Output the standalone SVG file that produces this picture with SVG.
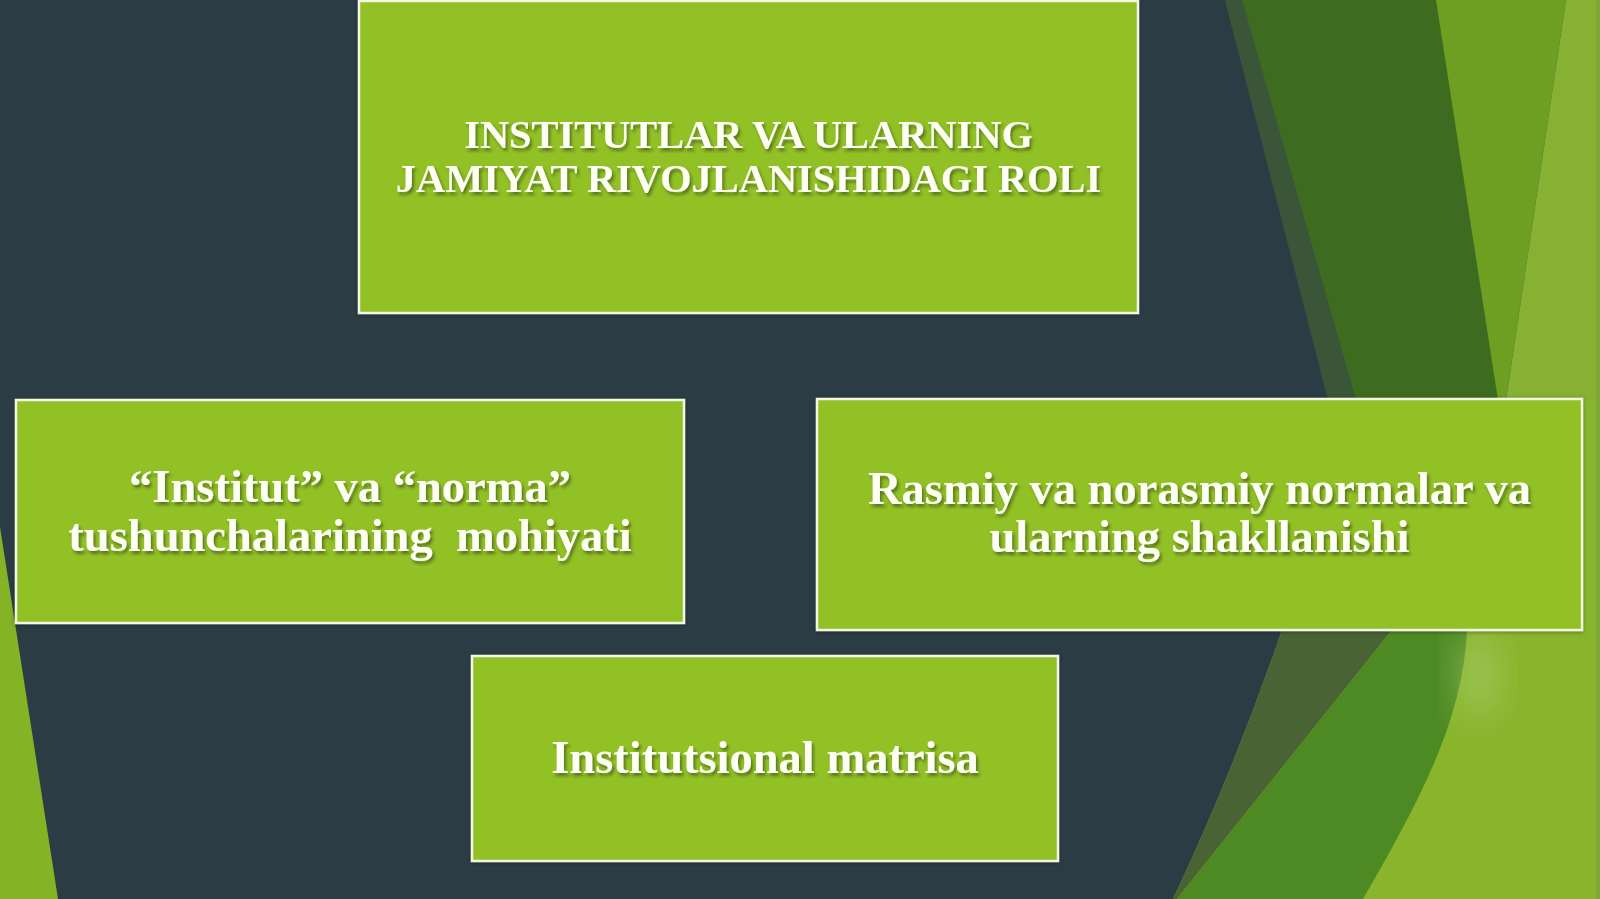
<svg xmlns="http://www.w3.org/2000/svg" width="1600" height="899" viewBox="0 0 1600 899">
  <defs>
    <filter id="tshadow" x="-10%" y="-30%" width="120%" height="160%">
      <feDropShadow dx="2" dy="3" stdDeviation="1.8" flood-color="#1a2a10" flood-opacity="0.5"/>
    </filter>
    <filter id="bshadow" x="-5%" y="-5%" width="110%" height="110%">
      <feDropShadow dx="0" dy="1" stdDeviation="2" flood-color="#000" flood-opacity="0.35"/>
    </filter>
    <filter id="blur" x="-50%" y="-50%" width="200%" height="200%">
      <feGaussianBlur stdDeviation="18"/>
    </filter>
  </defs>
  <style>
    .box { fill: #92c125; stroke: #f1f7e4; stroke-width: 2.5; filter: url(#bshadow); }
    .lbl { font-family: "Liberation Serif", "Times New Roman", serif; font-weight: bold; fill: #fdfff4; text-anchor: middle; filter: url(#tshadow); }
  </style>

  <!-- background -->
  <rect x="0" y="0" width="1600" height="899" fill="#2c3c45"/>
  <g id="background-shapes">
    <!-- left wedge -->
    <polygon points="0,527 58,899 0,899" fill="#85b326"/>
    <!-- top right facets -->
    <polygon points="1225,0 1440,0 1500,400 1330,400" fill="#3d6b1f"/>
    <polygon points="1225,0 1242,0 1356,400 1328,400" fill="#3a5538"/>
    <polygon points="1436,0 1566,0 1506,400 1498,400" fill="#6e9f22"/>
    <polygon points="1566,0 1600,0 1600,400 1506,400" fill="#86b132"/>
    <rect x="1500" y="400" width="100" height="240" fill="#88b52f"/>
    <!-- bottom right facets -->
    <path d="M1282,630 L1600,630 L1600,899 L1173,899 Q1232,775 1282,630 Z" fill="#88b52c"/>
    <path d="M1282,630 L1392,630 L1177,899 L1173,899 Q1232,775 1282,630 Z" fill="#4a6335"/>
    <path d="M1392,630 L1467,630 C1463,720 1420,800 1363,899 L1177,899 Z" fill="#4e8a23"/>
    <ellipse cx="1478" cy="675" rx="20" ry="45" fill="#b4d480" opacity="0.5" filter="url(#blur)"/>
    <rect x="1596" y="0" width="4" height="899" fill="#7ea83a"/>
  </g>

  <g id="connectors"></g>

  <g id="node-title">
    <rect class="box" x="359" y="1" width="779" height="312"/>
    <text class="lbl" font-size="40.4" x="748.5" y="148">INSTITUTLAR VA ULARNING</text>
    <text class="lbl" font-size="40.4" x="748.5" y="192">JAMIYAT RIVOJLANISHIDAGI ROLI</text>
  </g>

  <g id="node-institut-norma">
    <rect class="box" x="16" y="400" width="668" height="223"/>
    <text class="lbl" font-size="46.5" x="350" y="502">“Institut” va “norma”</text>
    <text class="lbl" font-size="46.5" x="350" y="551" xml:space="preserve">tushunchalarining  mohiyati</text>
  </g>

  <g id="node-rasmiy">
    <rect class="box" x="817" y="399" width="765" height="231"/>
    <text class="lbl" font-size="46.5" x="1199.5" y="504">Rasmiy va norasmiy normalar va</text>
    <text class="lbl" font-size="46.5" x="1199.5" y="552">ularning shakllanishi</text>
  </g>

  <g id="node-matrisa">
    <rect class="box" x="472" y="656" width="586" height="205"/>
    <text class="lbl" font-size="46.5" x="765" y="773">Institutsional matrisa</text>
  </g>
</svg>
